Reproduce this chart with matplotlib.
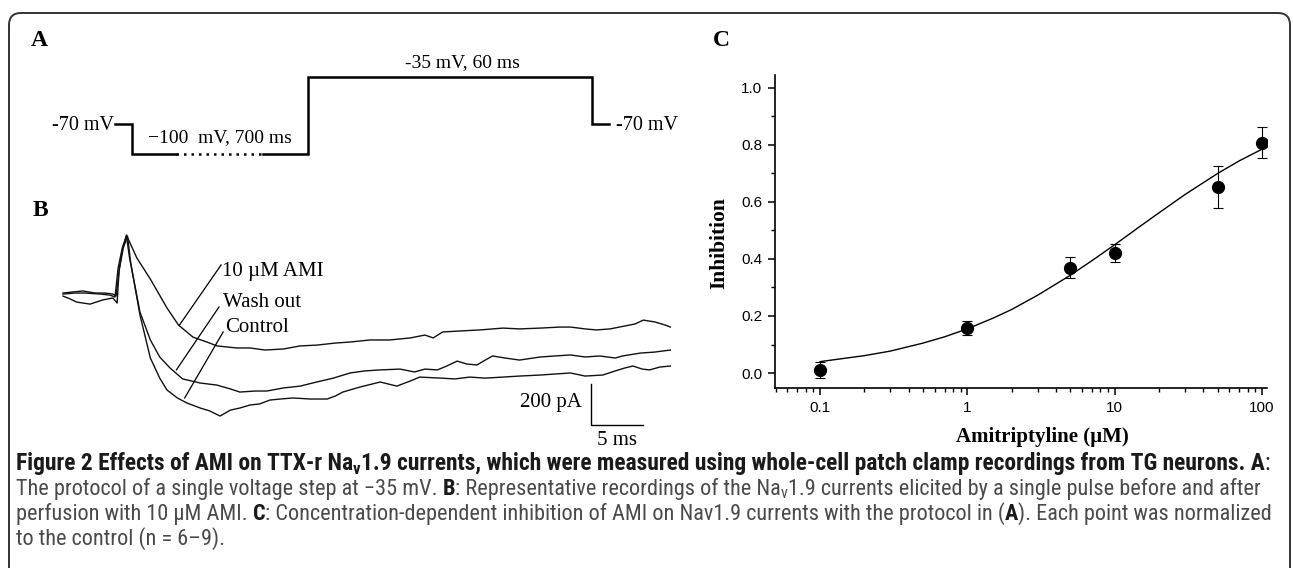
import numpy as np
import matplotlib
matplotlib.use('Agg')
import matplotlib.pyplot as plt
from matplotlib import font_manager
from matplotlib.patches import FancyBboxPatch
from matplotlib.ticker import FixedLocator, FixedFormatter, MultipleLocator, LogLocator, NullFormatter

W, H = 1293, 568
serif = ['Liberation Serif', 'DejaVu Serif']
sans = ['Liberation Sans', 'DejaVu Sans']
plt.rcParams['font.family'] = serif
plt.rcParams['axes.unicode_minus'] = False

names = {f.name for f in font_manager.fontManager.ttflist}
cap_fam = sans
for nm in ['Liberation Sans Narrow', 'Roboto Condensed', 'Open Sans Condensed', 'DejaVu Sans Condensed']:
    if nm in names:
        cap_fam = [nm, 'DejaVu Sans']
        break

# ---------------- data ----------------
# A: voltage protocol (schematic time axis, not to scale)
step_t = [0, 17, 17, 61, 148, 193, 193, 477, 477, 494]
step_v = [-70, -70, -100, -100, -100, -100, -35, -35, -70, -70]

# B: Nav1.9 current traces (ms, pA)
ami_t = [0, 0.9, 1.9, 3.1, 4.0, 4.8, 5.1, 5.4, 5.7, 6.1, 6.4, 7.1, 8.4, 10.0, 11.1, 12.5, 14.1, 14.8, 16.7, 18.0,
         19.4, 21.2, 22.8, 24.4, 26.2, 27.6, 29.5, 31.4, 33.4, 34.8, 35.6, 36.5, 38.2, 40.1, 42.3, 43.9, 45.9, 47.8,
         48.8, 50.2, 51.3, 52.6, 54.0, 55.0, 55.8, 56.9, 57.9, 58.4]
ami_i = [-5, 0, 5, -5, -5, -10, -20, 107, 205, 278, 244, 166, 63, -78, -161, -220, -249, -263, -273, -273,
         -283, -278, -263, -259, -249, -244, -234, -234, -224, -210, -224, -195, -190, -185, -176, -180, -176, -171,
         -171, -180, -185, -180, -166, -156, -137, -146, -161, -171]

wash_t = [0, 1.2, 2.1, 3.6, 4.5, 5.0, 5.3, 5.7, 6.1, 6.4, 7.4, 8.4, 9.3, 10.3, 11.5, 13.2, 14.8, 16.1, 17.0, 18.5,
          19.6, 21.2, 22.8, 24.4, 26.0, 27.6, 29.0, 30.5, 32.4, 33.8, 34.8, 36.0, 36.9, 37.9, 38.8, 39.8, 40.6, 41.3,
          42.5, 43.9, 45.9, 47.3, 48.8, 50.2, 51.6, 53.1, 53.8, 55.5, 56.9, 58.4]
wash_i = [-10, -5, -5, -10, -15, -24, 117, 215, 273, 166, -98, -234, -317, -371, -424, -444, -454, -473, -488, -483,
          -483, -468, -459, -439, -420, -395, -385, -380, -376, -390, -376, -380, -361, -337, -351, -356, -332, -312,
          -322, -332, -317, -312, -307, -317, -312, -322, -312, -298, -293, -283]

ctrl_t = [0, 0.7, 1.3, 2.6, 3.8, 4.8, 5.2, 5.4, 5.8, 6.2, 6.5, 7.4, 8.4, 9.3, 10.0, 11.0, 11.9, 13.2, 14.1, 15.1,
          16.1, 17.0, 18.0, 18.9, 19.9, 20.9, 22.1, 23.8, 25.4, 26.2, 26.9, 28.6, 30.5, 32.1, 33.4, 34.3, 36.3, 37.7,
          39.1, 40.6, 42.3, 43.9, 45.9, 47.3, 48.8, 50.2, 51.9, 53.1, 54.0, 54.8, 55.7, 56.4, 57.4, 58.4]
ctrl_i = [-20, -34, -49, -59, -39, -29, -54, 107, 215, 273, 146, -112, -322, -420, -478, -517, -541, -566, -580, -605,
          -576, -566, -551, -546, -527, -522, -517, -522, -522, -507, -488, -463, -439, -459, -434, -415, -420, -424,
          -415, -420, -415, -410, -405, -400, -395, -410, -405, -385, -371, -361, -376, -380, -366, -361]

# C: concentration-response
conc = [0.1, 1, 5, 10, 50, 100]
inhib = [0.010, 0.158, 0.370, 0.420, 0.652, 0.808]
sem = [0.029, 0.025, 0.036, 0.032, 0.074, 0.053]
fit_x = [0.1, 0.2, 0.3, 0.5, 0.7, 1, 1.5, 2, 3, 5, 7, 10, 15, 20, 30, 50, 70, 100]
fit_y = [0.040, 0.061, 0.077, 0.105, 0.127, 0.155, 0.193, 0.223, 0.273, 0.343, 0.394, 0.450, 0.516, 0.562,
         0.626, 0.700, 0.744, 0.785]
x_ticks = [0.1, 1, 10, 100]
x_ticklabels = ['0.1', '1', '10', '100']
y_ticks = [0.0, 0.2, 0.4, 0.6, 0.8, 1.0]
y_ticklabels = ['0.0', '0.2', '0.4', '0.6', '0.8', '1.0']

caption = [
    [('Figure 2 Effects of AMI on TTX-r Na', 'b', 0), ('v', 'b', 1),
     ('1.9 currents, which were measured using whole-cell patch clamp recordings from TG neurons. A', 'b', 0),
     (':', 'r', 0)],
    [('The protocol of a single voltage step at \u221235 mV. ', 'r', 0), ('B', 'b', 0),
     (': Representative recordings of the Na', 'r', 0), ('v', 'r', 1),
     ('1.9 currents elicited by a single pulse before and after', 'r', 0)],
    [('perfusion with 10 \u03bcM AMI. ', 'r', 0), ('C', 'b', 0),
     (': Concentration-dependent inhibition of AMI on Nav1.9 currents with the protocol in (', 'r', 0),
     ('A', 'b', 0), ('). Each point was normalized', 'r', 0)],
    [('to the control (n = 6\u20139).', 'r', 0)],
]


def rect(x0, y0, x1, y1):
    return [x0 / W, 1 - y1 / H, (x1 - x0) / W, (y1 - y0) / H]


fig = plt.figure(figsize=(W / 100, H / 100), dpi=100)

# frame
bg = fig.add_axes([0, 0, 1, 1])
bg.set_xlim(0, W)
bg.set_ylim(H, 0)
bg.axis('off')
bg.add_patch(FancyBboxPatch((9, 13), 1281, 620, boxstyle='round,pad=0,rounding_size=12',
                            fc='none', ec='#333333', lw=1.4))

# panel letters
for lab, (px, py) in zip('ABC', [(39, 40), (40, 210), (721, 41)]):
    fig.text(px / W, 1 - py / H, lab, fontsize=17, fontweight='bold', ha='center', va='center')

# ---------------- A ----------------
ax_a = fig.add_axes(rect(0, 20, 700, 190))
v_anchor = [-200, -100, -70, -35, 50]
h_anchor = [-100, 0, 30, 77, 191.2]
ax_a.set_yscale('function', functions=(lambda v: np.interp(v, v_anchor, h_anchor),
                                       lambda h: np.interp(h, h_anchor, v_anchor)))
ax_a.plot(step_t[:4], step_v[:4], color='k', lw=1.8, solid_joinstyle='miter')
ax_a.plot(step_t[3:5], step_v[3:5], color='k', lw=1.8, ls=(0, (1, 2.0)))
ax_a.plot(step_t[4:], step_v[4:], color='k', lw=1.8, solid_joinstyle='miter')
ax_a.set_xlim(-115, 585)
ax_a.set_ylim(-136, 7.4)
ax_a.axis('off')
ax_a.text(-1, -72, '-70 mV', ha='right', va='center', fontsize=14.5)
ax_a.text(501, -72, '-70 mV', ha='left', va='center', fontsize=14.5)
ax_a.text(104.5, -84, '\u2212100  mV, 700 ms', ha='center', va='center', fontsize=14)
ax_a.text(347, -24.6, '-35 mV, 60 ms', ha='center', va='center', fontsize=14)

# ---------------- B ----------------
ax_b = fig.add_axes(rect(40, 190, 700, 450))
for t, i in [(ami_t, ami_i), (wash_t, wash_i), (ctrl_t, ctrl_i)]:
    ax_b.plot(t, i, color='#111111', lw=1.0)
ax_b.set_xlim(-2.212, 61.25)
ax_b.set_ylim(-770.7, 497.6)
ax_b.axis('off')
# labels with leader lines
ax_b.plot([15.2, 11.2], [132, -161], color='k', lw=0.9)
ax_b.plot([15.0, 10.9], [-73, -380], color='k', lw=0.9)
ax_b.plot([15.4, 11.7], [-195, -517], color='k', lw=0.9)
ax_b.text(15.3, 98, '10 \u00b5M AMI', fontsize=15, ha='left', va='center')
ax_b.text(15.4, -49, 'Wash out', fontsize=15, ha='left', va='center')
ax_b.text(15.6, -171, 'Control', fontsize=15, ha='left', va='center')
# scale bar 5 ms / 200 pA
ax_b.plot([50.8, 50.8, 55.8], [-449, -649, -649], color='k', lw=1.0)
ax_b.text(49.9, -541, '200 pA', fontsize=15, ha='right', va='center')
ax_b.text(53.3, -722, '5 ms', fontsize=15, ha='center', va='center')

# ---------------- C ----------------
ax_c = fig.add_axes(rect(775, 75, 1267, 388))
ax_c.plot(fit_x, fit_y, color='k', lw=1.0)
ax_c.errorbar(conc, inhib, yerr=sem, fmt='o', color='k', ms=8.5, capsize=3.5,
              elinewidth=0.8, capthick=0.8)
ax_c.set_xscale('log')
ax_c.set_xlim(0.0494, 108)
ax_c.set_ylim(-0.0525, 1.045)
for s in ['top', 'right']:
    ax_c.spines[s].set_visible(False)
for s in ['left', 'bottom']:
    ax_c.spines[s].set_linewidth(1.2)
ax_c.xaxis.set_major_locator(FixedLocator(x_ticks))
ax_c.xaxis.set_major_formatter(FixedFormatter(x_ticklabels))
ax_c.xaxis.set_minor_locator(LogLocator(base=10, subs=np.arange(2, 10)))
ax_c.xaxis.set_minor_formatter(NullFormatter())
ax_c.yaxis.set_major_locator(FixedLocator(y_ticks))
ax_c.yaxis.set_major_formatter(FixedFormatter(y_ticklabels))
ax_c.yaxis.set_minor_locator(MultipleLocator(0.1))
ax_c.tick_params(which='major', direction='out', length=5, width=1.1, labelsize=11, pad=4)
ax_c.tick_params(which='minor', direction='out', length=3, width=1.0)
for lbl in ax_c.get_xticklabels() + ax_c.get_yticklabels():
    lbl.set_family(sans)
fig.text(719 / W, 1 - 243 / H, 'Inhibition', rotation=90, fontsize=15.5, fontweight='bold',
         ha='center', va='center')
fig.text(1042 / W, 1 - 437 / H, 'Amitriptyline (\u00b5M)', fontsize=15, fontweight='bold',
         ha='center', va='center')

# ---------------- caption ----------------
renderer = fig.canvas.get_renderer()
X0 = 16


def width_of(s, size, weight):
    t = fig.text(0, 0, s, fontsize=size, fontweight=weight, family=cap_fam)
    w = t.get_window_extent(renderer).width
    t.remove()
    return w


def draw_caption(size_b, size_r, draw=True):
    widths = []
    for k, line in enumerate(caption):
        size = size_b if k == 0 else size_r
        sp = width_of('x x', size, 'normal') - width_of('xx', size, 'normal')
        x = X0
        base = 470 + 25 * k
        for s, wt, sub in line:
            weight = 'bold' if wt == 'b' else 'normal'
            col = '#1a1a1a' if (wt == 'b' or k == 0) else '#4a4a4a'
            fs = size * 0.72 if sub else size
            lead = len(s) - len(s.lstrip(' '))
            trail = len(s) - len(s.rstrip(' '))
            core = s.strip(' ')
            x += lead * sp
            t = fig.text(x / W, 1 - (base + (3.5 if sub else 0)) / H, core, fontsize=fs,
                         fontweight=weight, family=cap_fam, color=col, va='baseline', ha='left')
            x += t.get_window_extent(renderer).width
            if not draw:
                t.remove()
            x += trail * sp
        widths.append(x)
    return widths


w0 = draw_caption(12, 12, draw=False)
size_b = 12 * (1276 - X0) / (w0[0] - X0)
size_r = 12 * (1274 - X0) / (w0[2] - X0)
draw_caption(size_b, size_r)

fig.savefig('out.png', dpi=100)
